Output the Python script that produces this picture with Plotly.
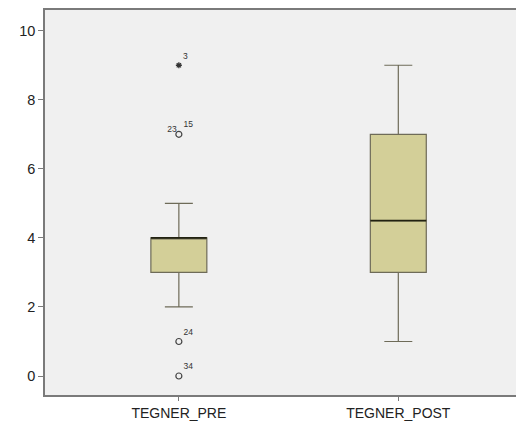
import plotly.graph_objects as go

categories = ["TEGNER_PRE", "TEGNER_POST"]
q1 = [3, 3]
median = [4, 4.5]
q3 = [4, 7]
lower_fence = [2, 1]
upper_fence = [5, 9]

# outliers (circles) for TEGNER_PRE
out_vals = [7, 1, 0]
out_labels_right = ["15", "24", "34"]
out_labels_left = ["23", "", ""]
# extreme (star) for TEGNER_PRE
ext_vals = [9]
ext_labels = ["3"]

xpos = [0, 1]

fig = go.Figure()
fig.add_trace(go.Box(
    x=xpos, q1=q1, median=median, q3=q3,
    lowerfence=lower_fence, upperfence=upper_fence,
    width=0.255, whiskerwidth=0.5,
    fillcolor="#D3CF98",
    line=dict(color="#6E6B58", width=1.2),
    boxpoints=False, showlegend=False, hoverinfo="skip",
))
# median lines darker
for i, c in enumerate(xpos):
    fig.add_trace(go.Scatter(
        x=[c - 0.1275, c + 0.1275], y=[median[i], median[i]],
        mode="lines", line=dict(color="#222211", width=1.6),
        showlegend=False, hoverinfo="skip"))

lab_font = dict(size=8.5, color="#333333", family="Liberation Sans, Arial")
fig.add_trace(go.Scatter(
    x=[xpos[0]] * len(out_vals), y=out_vals, mode="markers+text",
    marker=dict(symbol="circle-open", size=6, color="#444444", line=dict(width=1.2)),
    text=out_labels_right, textposition="top right", textfont=lab_font,
    showlegend=False, hoverinfo="skip"))
fig.add_trace(go.Scatter(
    x=[xpos[0] - 0.01] * len(out_vals), y=out_vals, mode="text",
    text=out_labels_left, textposition="top left", textfont=lab_font,
    showlegend=False, hoverinfo="skip"))
fig.add_trace(go.Scatter(
    x=[xpos[0]] * len(ext_vals), y=ext_vals, mode="markers+text",
    marker=dict(symbol="asterisk-open", size=5, color="#333333", line=dict(width=1.3, color="#333333")),
    text=ext_labels, textposition="top right", textfont=lab_font,
    showlegend=False, hoverinfo="skip"))

fig.update_layout(
    width=516, height=419,
    margin=dict(l=37, r=5, t=0, b=32),
    paper_bgcolor="white", plot_bgcolor="#F0F0F0",
    font=dict(family="Liberation Sans, Arial", size=12, color="#222222"),
    xaxis=dict(range=[-0.61, 1.55], tickvals=xpos, ticktext=categories,
               showgrid=False, zeroline=False, showline=True, linecolor="#7A7A7A",
               linewidth=1.5, mirror=True, ticks="outside", ticklen=4,
               tickcolor="#7A7A7A", tickfont=dict(size=14)),
    yaxis=dict(range=[-0.55, 10.6], tickvals=[0, 2, 4, 6, 8, 10],
               showgrid=False, zeroline=False, showline=True, linecolor="#7A7A7A",
               linewidth=1.5, mirror=True, ticks="outside", ticklen=5,
               tickcolor="#7A7A7A", tickfont=dict(size=14.5)),
)
fig.write_html("out.html")
